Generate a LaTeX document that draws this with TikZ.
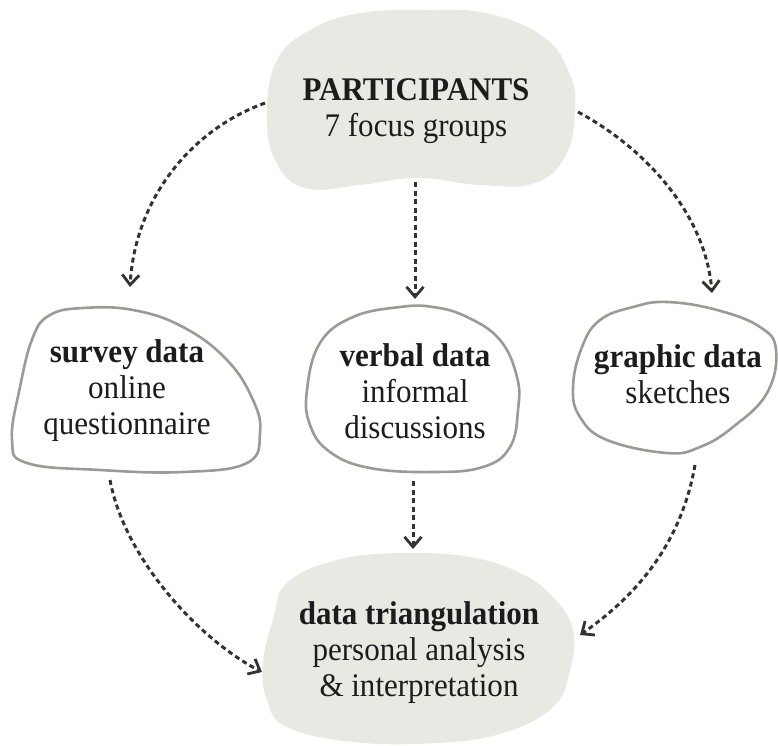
\documentclass[tikz,border=0pt]{standalone}
\usepackage{fontspec}
\setmainfont{Liberation Serif}[FakeStretch=0.94]
\usetikzlibrary{arrows.meta}
\definecolor{blobfill}{HTML}{E9E9E4}
\definecolor{blobline}{HTML}{9B9B95}
\definecolor{arrowcol}{HTML}{333431}
\definecolor{txt}{HTML}{1C1C1C}
\begin{document}
\begin{tikzpicture}[x=1pt,y=-1pt,
  filledblob/.style={fill=blobfill, draw=none},
  outlineblob/.style={fill=white, draw=blobline, line width=2.6pt},
  lbl/.style={align=center, text=txt, font=\fontsize{33}{36}\selectfont, inner sep=0pt},
  flow/.style={draw=arrowcol, line width=3pt, dash pattern=on 5pt off 3.5pt,
    -{Straight Barb[length=10pt,width=17pt,line width=2.8pt]}}
]
\useasboundingbox[fill=white] (0,0) rectangle (778,745);

% blobs
\fill[filledblob] plot[smooth cycle, tension=0.7] coordinates {
  (277,60) (310,30) (360,13) (430,10) (490,14) (545,38) (570,75) (575,110)
  (566,155) (535,183) (480,185) (418,178) (360,185) (305,188) (275,160) (267,112)};
\filldraw[outlineblob] plot[smooth cycle, tension=0.7] coordinates {
  (33,337) (50,315) (83,308) (133,310) (183,327) (227,360) (253,400) (260,433)
  (247,463) (183,472) (100,470) (27,463) (12,440) (20,387)};
\filldraw[outlineblob] plot[smooth cycle, tension=0.7] coordinates {
  (320,343) (353,317) (400,307) (433,307) (467,317) (500,340) (517,377) (518,410)
  (510,447) (483,467) (433,472) (370,468) (330,452) (310,425) (307,390)};
\filldraw[outlineblob] plot[smooth cycle, tension=0.7] coordinates {
  (600,320) (633,307) (667,302) (717,310) (760,327) (776,350) (767,393)
  (733,427) (700,447) (667,453) (607,440) (580,417) (573,387) (582,347)};
\fill[filledblob] plot[smooth cycle, tension=0.7] coordinates {
  (287,583) (337,560) (403,553) (470,557) (520,573) (553,597) (573,630) (570,670)
  (553,707) (503,733) (437,743) (353,742) (287,727) (267,700) (263,663) (273,620)};

% texts
\node[lbl] (part) at (416,111) {\textbf{PARTICIPANTS}\\7 focus groups};
\node[lbl] (survey) at (127,391) {\textbf{survey data}\\online\\questionnaire};
\node[lbl] (verbal) at (415,391) {\textbf{verbal data}\\informal\\discussions};
\node[lbl] (graphic) at (678,374) {\textbf{graphic data}\\sketches};
\node[lbl] (tri) at (419,653) {\textbf{data triangulation}\\personal analysis\\\& interpretation};

% connector end points
\coordinate (pL) at (265,103);
\coordinate (pB) at (415,182);
\coordinate (pR) at (578,112);
\coordinate (sT) at (130,287);
\coordinate (vT) at (415,299);
\coordinate (gT) at (712,293);
\coordinate (sB) at (110,480);
\coordinate (vB) at (413,481);
\coordinate (gB) at (695,465);
\coordinate (tL) at (262,672);
\coordinate (tT) at (413,549);
\coordinate (tR) at (580,635);

% connectors
\draw[flow] (pL) .. controls (190,130) and (135,200) .. (sT);
\draw[flow] (pB) -- (vT);
\draw[flow] (pR) .. controls (640,145) and (705,210) .. (gT);
\draw[flow] (sB) .. controls (125,560) and (200,640) .. (tL);
\draw[flow] (vB) -- (tT);
\draw[flow] (gB) .. controls (680,550) and (630,600) .. (tR);
\end{tikzpicture}
\end{document}
